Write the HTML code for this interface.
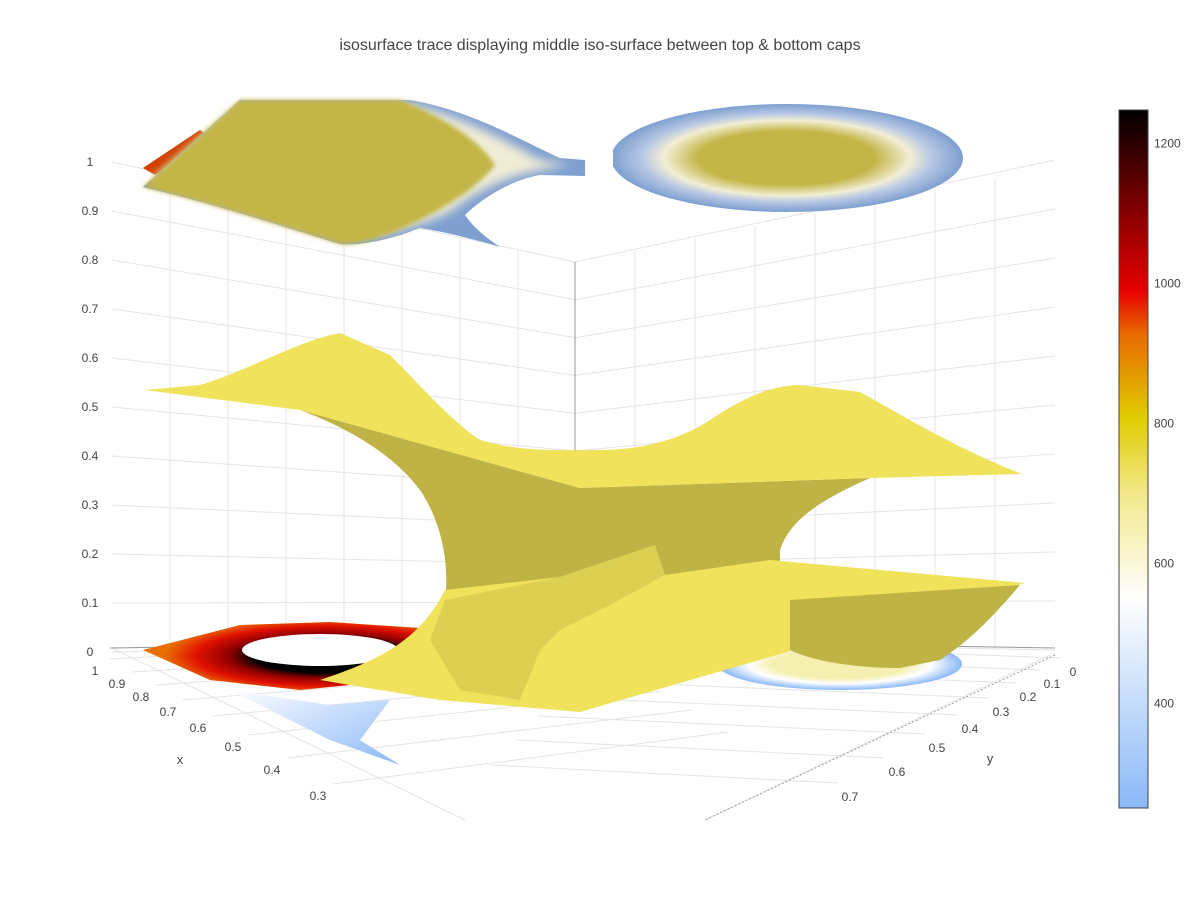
<!DOCTYPE html>
<html><head><meta charset="utf-8"><style>
body{margin:0;background:#fff;}
svg{display:block;font-family:"Liberation Sans",sans-serif;}
</style></head><body>
<svg id="chart" width="1200" height="900" viewBox="0 0 1200 900">
<defs>
<filter id="bl4"><feGaussianBlur stdDeviation="5"/></filter>
<filter id="bl2"><feGaussianBlur stdDeviation="2"/></filter>
<linearGradient id="cbgrad" x1="0" y1="1" x2="0" y2="0">
<stop offset="0" stop-color="#8ab8f8"/>
<stop offset="0.3" stop-color="#ffffff"/>
<stop offset="0.45" stop-color="#f2e88a"/>
<stop offset="0.56" stop-color="#e0cc00"/>
<stop offset="0.68" stop-color="#e86a00"/>
<stop offset="0.74" stop-color="#e80000"/>
<stop offset="0.86" stop-color="#800000"/>
<stop offset="1" stop-color="#000000"/>
</linearGradient>
<radialGradient id="capR" cx="0.5" cy="0.5" r="0.5">
<stop offset="0.5" stop-color="#c4b547"/>
<stop offset="0.7" stop-color="#f2eed4"/>
<stop offset="0.82" stop-color="#b8c8e4"/>
<stop offset="1" stop-color="#7e9fd0"/>
</radialGradient>
<radialGradient id="ringL" cx="0.62" cy="0.5" r="0.55">
<stop offset="0.45" stop-color="#000"/>
<stop offset="0.6" stop-color="#900000"/>
<stop offset="0.8" stop-color="#e01000"/>
<stop offset="1" stop-color="#e87000"/>
</radialGradient>
<radialGradient id="ringR" cx="0.5" cy="0.5" r="0.5">
<stop offset="0.55" stop-color="#f6f0b0"/>
<stop offset="0.75" stop-color="#ffffff"/>
<stop offset="1" stop-color="#8ab8f8"/>
</radialGradient>
<linearGradient id="blueL" x1="0" y1="0" x2="1" y2="1">
<stop offset="0" stop-color="#ffffff"/>
<stop offset="1" stop-color="#8ab8f8"/>
</linearGradient>
</defs>
<text x="600" y="50" text-anchor="middle" font-size="16" fill="#444">isosurface trace displaying middle iso-surface between top &amp; bottom caps</text>
<g id="grid" stroke="#e4e4e4" stroke-width="1" fill="none"></g>
<g id="axes" stroke="#999" stroke-width="1" fill="none">
<line x1="575" y1="262" x2="575" y2="640"/>
<line x1="110" y1="648" x2="575" y2="640"/>
<line x1="575" y1="640" x2="1055" y2="648"/>
<line x1="1055" y1="655" x2="705" y2="820" stroke-dasharray="2,2"/>
</g>
<!-- bottom caps -->
<g>
<path d="M143,650 L240,625 L330,622 L420,628 L440,650 L400,680 L300,690 L210,680 Z" fill="url(#ringL)"/>
<ellipse cx="320" cy="650" rx="78" ry="16" fill="#fff"/>
<path d="M230,690 L330,705 L390,700 L360,740 L400,765 L330,740 Z" fill="url(#blueL)"/>
<ellipse cx="840" cy="664" rx="122" ry="26" fill="url(#ringR)"/>
</g>
<!-- top caps -->
<g>
<path d="M143,168 L200,130 L215,140 L155,175 Z" fill="#d04000"/>
<path d="M143,187 L240,100 L410,100 C470,110 520,140 560,158 L585,160 L585,176 L540,175 C510,180 480,200 465,215 C475,230 490,240 500,247 C470,238 445,232 420,228 C390,240 360,246 340,244 C300,232 220,205 143,187 Z" fill="#7e9fd0"/>
<path d="M150,182 L240,103 L405,103 C460,115 505,140 540,160 L570,165 L540,170 C505,176 470,195 450,212 C420,225 380,238 345,238 C300,228 220,204 150,182 Z" fill="#f0ecd6" filter="url(#bl4)"/>
<path d="M143,187 L240,100 L400,100 C440,115 480,140 495,165 C480,185 450,205 420,220 C390,235 360,246 340,244 C300,232 220,205 143,187 Z" fill="#c4b547" filter="url(#bl2)"/>
<ellipse cx="787" cy="158" rx="176" ry="54" fill="url(#capR)"/>
<rect x="585" y="150" width="28" height="40" fill="#fff"/>
</g>
<!-- middle iso surface -->
<g>
<path d="M300,410 L580,488 L870,478 C820,500 790,520 780,550 L780,565 L700,600 L560,615 L445,600 C450,560 440,520 420,490 C390,450 340,425 300,410 Z" fill="#bfb345"/>
<path d="M445,590 L560,577 L655,545 L665,575 L770,560 L1025,583 L580,712 L440,700 L320,680 C380,660 420,640 445,590 Z" fill="#f0e25a"/>
<path d="M560,577 L655,545 L665,575 L610,605 L560,630 L540,650 L520,700 L460,690 L430,640 L445,600 Z" fill="#d8cb50" opacity="0.8"/>
<path d="M790,600 L1020,585 C990,620 970,640 940,660 L900,668 C850,668 810,660 790,650 Z" fill="#bfb345"/>
<path d="M145,390 L200,385 C250,370 300,340 340,333 L390,355 C420,385 450,420 480,440 C520,452 560,450 600,450 C640,450 680,440 710,420 C740,400 770,385 800,385 L860,392 C910,420 960,450 1022,474 L870,478 L580,488 L300,410 Z" fill="#f0e25a"/>
</g>
<!-- colorbar -->
<g>
<rect x="1119" y="110" width="29" height="698" fill="url(#cbgrad)" stroke="#444" stroke-width="1"/>
<g id="cbticks"></g>
</g>
<g id="labels" font-size="12" fill="#444"></g>
<text x="180" y="764" font-size="13" fill="#444" text-anchor="middle">x</text>
<text x="990" y="763" font-size="13" fill="#444" text-anchor="middle">y</text>
</svg>
<script>
const cbValues=[400,600,800,1000,1200];
const zTicks=["0","0.1","0.2","0.3","0.4","0.5","0.6","0.7","0.8","0.9","1"];
const xTicks=["1","0.9","0.8","0.7","0.6","0.5","0.4","0.3"];
const yTicks=["0","0.1","0.2","0.3","0.4","0.5","0.6","0.7"];
const NS="http://www.w3.org/2000/svg";
function cbY(v){return 808-(v-251)*0.7;}
function zLeftY(i){return 652-i*49;}
function zBackY(i){return 640-i*37.8;}
function zRightY(i){return 650-i*49;}
const xPos=[[95,675],[117,688],[141,701],[168,716],[198,732],[233,751],[272,774],[318,800]];
const yPos=[[1073,676],[1052,688],[1028,701],[1001,716],[970,733],[937,752],[897,776],[850,801]];
const cb=document.getElementById('cbticks');
cbValues.forEach(v=>{const t=document.createElementNS(NS,'text');


t.setAttribute('x',1154);t.setAttribute('y',cbY(v)+4);t.setAttribute('font-size','12');t.setAttribute('fill','#444');t.textContent=v;cb.appendChild(t);});
const grid=document.getElementById('grid');
function ln(a,b,c,d){const l=document.createElementNS(NS,'line');l.setAttribute('x1',a);l.setAttribute('y1',b);l.setAttribute('x2',c);l.setAttribute('y2',d);grid.appendChild(l);}
zTicks.forEach((z,i)=>{ln(112,zLeftY(i),575,zBackY(i));ln(575,zBackY(i),1055,zRightY(i));});
for(let k=1;k<8;k++){const xl=112+k*58,yb=648-k*1;ln(xl,165+k*12,xl,yb);const xr=575+k*60;ln(xr,262-k*12,xr,641+k);}
xPos.forEach((p,i)=>{ln(p[0]+15,p[1]-16,p[0]+480-i*10,p[1]-40-i*4);});
yPos.forEach((p,i)=>{ln(p[0]-12,p[1]-18,p[0]-500+i*20,p[1]-36);});
ln(112,648,465,820);ln(1050,655,705,820);
const lab=document.getElementById('labels');
function tx(s,x,y,name){const t=document.createElementNS(NS,'text');


t.setAttribute('x',x);t.setAttribute('y',y);t.setAttribute('text-anchor','middle');t.textContent=s;lab.appendChild(t);}
zTicks.forEach((z,i)=>tx(z,90,zLeftY(i)+4,'z-tick-label'));
xTicks.forEach((s,i)=>tx(s,xPos[i][0],xPos[i][1],'x-tick-label'));
yTicks.forEach((s,i)=>tx(s,yPos[i][0],yPos[i][1],'y-tick-label'));
</script>
</body></html>
